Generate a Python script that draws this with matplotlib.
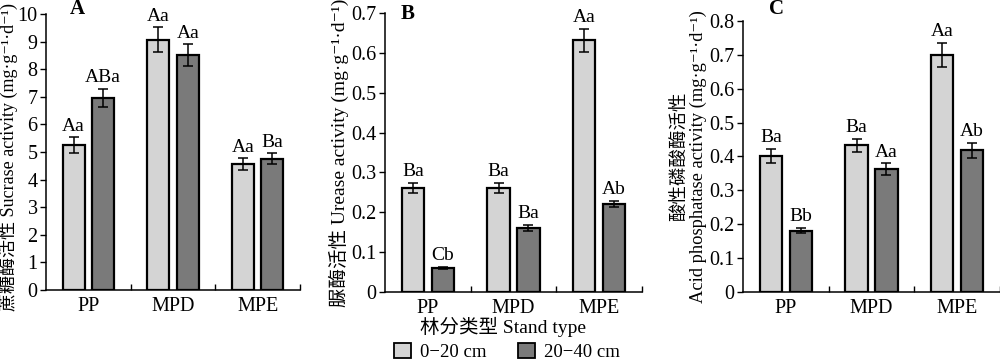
import matplotlib
matplotlib.use('Agg')
import matplotlib.pyplot as plt
import numpy as np
from matplotlib.patches import Patch

plt.rcParams['font.family'] = ['Liberation Serif', 'DejaVu Serif', 'Noto Sans CJK SC']

stands = ['PP', 'MPD', 'MPE']
depths = ['0\u221220 cm', '20\u221240 cm']

sucrase_top = [5.25, 9.07, 4.55]
sucrase_top_err = [0.28, 0.45, 0.22]
sucrase_sub = [6.97, 8.50, 4.75]
sucrase_sub_err = [0.33, 0.40, 0.20]
sucrase_lbl_top = ['Aa', 'Aa', 'Aa']
sucrase_lbl_sub = ['ABa', 'Aa', 'Ba']

urease_top = [0.261, 0.261, 0.632]
urease_top_err = [0.012, 0.012, 0.029]
urease_sub = [0.061, 0.161, 0.221]
urease_sub_err = [0.003, 0.007, 0.008]
urease_lbl_top = ['Ba', 'Ba', 'Aa']
urease_lbl_sub = ['Cb', 'Ba', 'Ab']

phos_top = [0.401, 0.433, 0.700]
phos_top_err = [0.021, 0.020, 0.035]
phos_sub = [0.181, 0.362, 0.419]
phos_sub_err = [0.008, 0.018, 0.022]
phos_lbl_top = ['Ba', 'Ba', 'Aa']
phos_lbl_sub = ['Bb', 'Aa', 'Ab']

light = '#d4d4d4'
dark = '#7a7a7a'

fig = plt.figure(figsize=(10, 3.61), dpi=100)

panels = [
    dict(rect=[0.046, 0.197, 0.254, 0.764], top=sucrase_top, top_err=sucrase_top_err,
         sub=sucrase_sub, sub_err=sucrase_sub_err, lt=sucrase_lbl_top, ls=sucrase_lbl_sub,
         ymax=10, step=1, letter='A', letter_xy=(0.077, 0.975),
         ylabel='蔗糖酶活性 Sucrase activity (mg·g⁻¹·d⁻¹)', ylx=-0.11, yly=0.48, ylfs=13),
    dict(rect=[0.385, 0.191, 0.257, 0.773], top=urease_top, top_err=urease_top_err,
         sub=urease_sub, sub_err=urease_sub_err, lt=urease_lbl_top, ls=urease_lbl_sub,
         ymax=0.7, step=0.1, letter='B', letter_xy=(0.408, 0.96),
         ylabel='脲酶活性 Urease activity (mg·g⁻¹·d⁻¹)', ylx=-0.14, yly=0.5, ylfs=14),
    dict(rect=[0.743, 0.191, 0.257, 0.751], top=phos_top, top_err=phos_top_err,
         sub=phos_sub, sub_err=phos_sub_err, lt=phos_lbl_top, ls=phos_lbl_sub,
         ymax=0.8, step=0.1, letter='C', letter_xy=(0.777, 0.975),
         ylabel='酸性磷酸酶活性\nAcid phosphatase activity (mg·g⁻¹·d⁻¹)', ylx=-0.14, yly=0.5,
         ylfs=13.3),
]

x = np.arange(len(stands))
off = 0.175
w = 0.26

for p in panels:
    ax = fig.add_axes(p['rect'])
    ax.bar(x - off, p['top'], w, yerr=p['top_err'], color=light, edgecolor='black',
           linewidth=1.6, error_kw=dict(elinewidth=1.1, capsize=3.5, capthick=1.1))
    ax.bar(x + off, p['sub'], w, yerr=p['sub_err'], color=dark, edgecolor='black',
           linewidth=1.6, error_kw=dict(elinewidth=1.1, capsize=3.5, capthick=1.1))
    pad = p['ymax'] * 0.01
    for i in range(len(stands)):
        ax.text(x[i] - off, p['top'][i] + p['top_err'][i] + pad, p['lt'][i],
                ha='center', va='bottom', fontsize=14)
        ax.text(x[i] + off, p['sub'][i] + p['sub_err'][i] + pad, p['ls'][i],
                ha='center', va='bottom', fontsize=14)
    ax.set_xlim(-0.5, 2.5)
    ax.set_ylim(0, p['ymax'])
    ticks = np.round(np.arange(0, p['ymax'] + p['step'] / 2, p['step']), 2)
    ax.set_yticks(ticks)
    ax.set_yticklabels(['0' if t == 0 else ('%g' % t) for t in ticks])
    ax.set_xticks(x)
    ax.set_xticklabels(stands)
    ax.set_xticks([0.5, 1.5, 2.5], minor=True)
    ax.tick_params(axis='x', which='major', length=0, pad=5, labelsize=14.5)
    ax.tick_params(axis='x', which='minor', direction='in', length=4, width=1)
    ax.tick_params(axis='y', direction='out', length=4, width=1, labelsize=14.5, pad=2)
    for s in ['top', 'right']:
        ax.spines[s].set_visible(False)
    for s in ['left', 'bottom']:
        ax.spines[s].set_linewidth(1.1)
    ax.set_ylabel(p['ylabel'], fontsize=p['ylfs'], linespacing=1.05)
    ax.yaxis.set_label_coords(p['ylx'], p['yly'])
    fig.text(p['letter_xy'][0], p['letter_xy'][1], p['letter'], fontsize=15,
             fontweight='bold', ha='center', va='center')

fig.text(0.503, 0.095, '林分类型 Stand type', ha='center', va='center', fontsize=14)

handles = [Patch(facecolor=light, edgecolor='black', linewidth=1.3),
           Patch(facecolor=dark, edgecolor='black', linewidth=1.3)]
fig.legend(handles, depths, loc='center', bbox_to_anchor=(0.507, 0.025), ncol=2,
           frameon=False, fontsize=13.5, handlelength=0.9, handleheight=0.9,
           handletextpad=0.5, columnspacing=1.7, borderpad=0)

fig.savefig('out.png', dpi=100)
